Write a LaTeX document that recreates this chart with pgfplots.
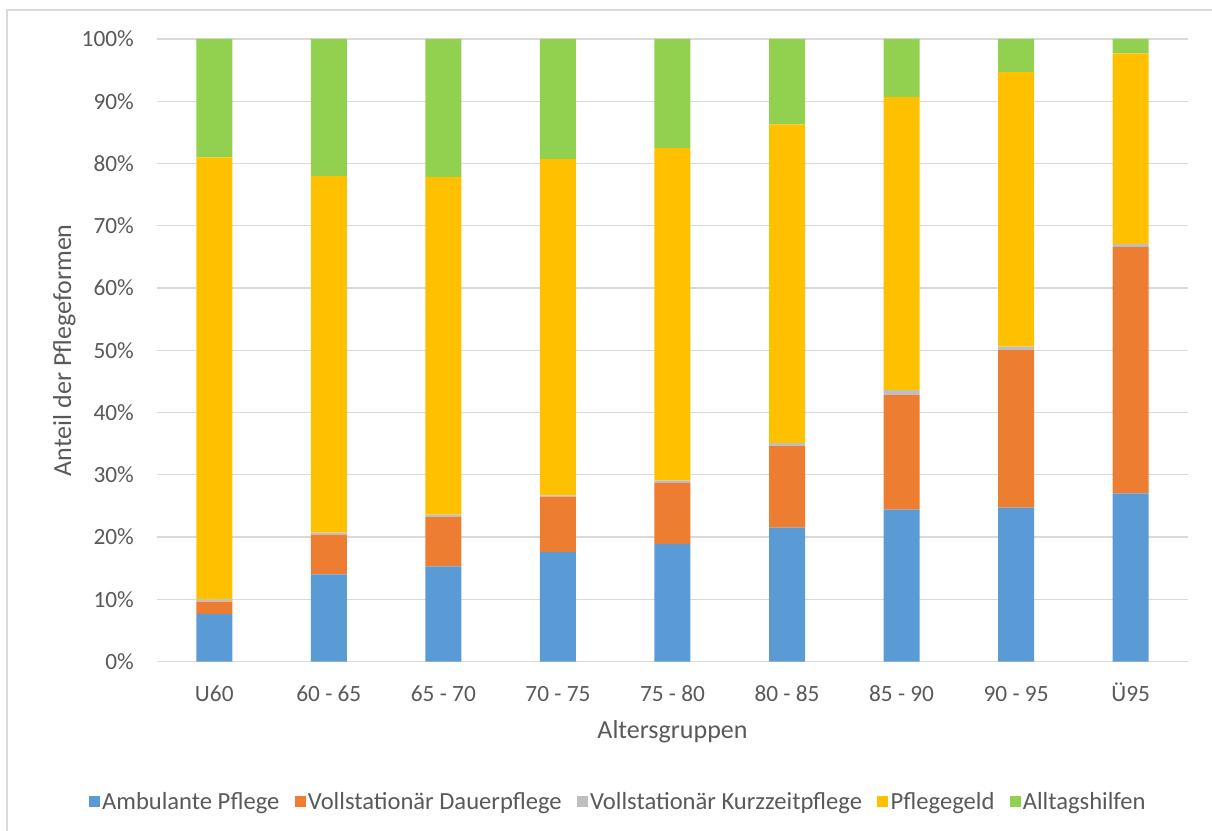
\documentclass[border=0pt]{standalone}
\usepackage{fontspec}
\setmainfont{Carlito}
\usepackage{pgfplots}
\pgfplotsset{compat=1.18}

\definecolor{cAmb}{HTML}{5B9BD5}
\definecolor{cDauer}{HTML}{ED7D31}
\definecolor{cKurz}{HTML}{BFBFBF}
\definecolor{cGeld}{HTML}{FFC000}
\definecolor{cAlltag}{HTML}{92D050}
\definecolor{cText}{HTML}{595959}
\definecolor{cGrid}{HTML}{D9D9D9}

\newcommand{\tickfont}{\fontsize{23.3}{28}\selectfont}
\newcommand{\legendfont}{\fontsize{24.6}{29}\selectfont}
\newcommand{\labelfont}{\fontsize{26}{31}\selectfont}

\begin{document}
\begin{tikzpicture}[x=1pt,y=1pt]
\useasboundingbox (0,0) rectangle (1212,830);
\draw[cGrid, line width=1.5pt] (7,-20) rectangle (1240,820);
\begin{axis}[
  at={(157pt,168.5pt)}, anchor=south west,
  scale only axis, width=1031pt, height=622.5pt,
  ybar stacked, bar width=36pt,
  xmin=-0.5, xmax=8.5, ymin=0, ymax=100,
  xtick={0,...,8},
  xticklabels={U60,60 - 65,65 - 70,70 - 75,75 - 80,80 - 85,85 - 90,90 - 95,Ü95},
  ytick={0,10,...,100},
  yticklabels={0\%,10\%,20\%,30\%,40\%,50\%,60\%,70\%,80\%,90\%,100\%},
  major tick length=0pt,
  axis line style={draw=none},
  axis x line*=bottom,
  ymajorgrids, grid style={cGrid, line width=1.3pt},
  tick label style={font=\tickfont, text=cText},
  yticklabel style={inner sep=0pt, xshift=-23pt},
  xticklabel style={inner sep=0pt, anchor=base, yshift=-39.5pt},
  xlabel={Altersgruppen},
  ylabel={Anteil der Pflegeformen},
  label style={font=\labelfont, text=cText},
  xlabel style={at={(axis description cs:0.5,-0.1229)}, anchor=base},
  ylabel style={at={(axis description cs:-0.0834,0.5)}, anchor=base},
  legend columns=5,
  legend style={at={(0.4475,-0.2257)}, anchor=center, draw=none, fill=none,
    font=\legendfont, text=cText, nodes={inner sep=2.2pt},
    /tikz/every even column/.append style={column sep=13pt}},
  legend image code/.code={\fill[#1] (0pt,-5.5pt) rectangle (11pt,5.5pt);},
  every axis plot/.append style={draw=none},
]
% Ambulante Pflege
\addplot[fill=cAmb] coordinates {(0,7.6) (1,14.0) (2,15.3) (3,17.6) (4,18.9) (5,21.5) (6,24.4) (7,24.7) (8,27.0)};
% Vollstationaer Dauerpflege
\addplot[fill=cDauer] coordinates {(0,2.0) (1,6.4) (2,7.9) (3,8.9) (4,9.8) (5,13.1) (6,18.4) (7,25.3) (8,39.6)};
% Vollstationaer Kurzzeitpflege
\addplot[fill=cKurz] coordinates {(0,0.4) (1,0.3) (2,0.4) (3,0.2) (4,0.4) (5,0.5) (6,0.8) (7,0.6) (8,0.5)};
% Pflegegeld
\addplot[fill=cGeld] coordinates {(0,71.0) (1,57.3) (2,54.2) (3,54.0) (4,53.4) (5,51.2) (6,47.1) (7,44.1) (8,30.6)};
% Alltagshilfen
\addplot[fill=cAlltag] coordinates {(0,19.0) (1,22.0) (2,22.2) (3,19.3) (4,17.5) (5,13.7) (6,9.3) (7,5.3) (8,2.3)};
\legend{Ambulante Pflege,Vollstationär Dauerpflege,Vollstationär Kurzzeitpflege,Pflegegeld,Alltagshilfen}
\end{axis}
\end{tikzpicture}
\end{document}
